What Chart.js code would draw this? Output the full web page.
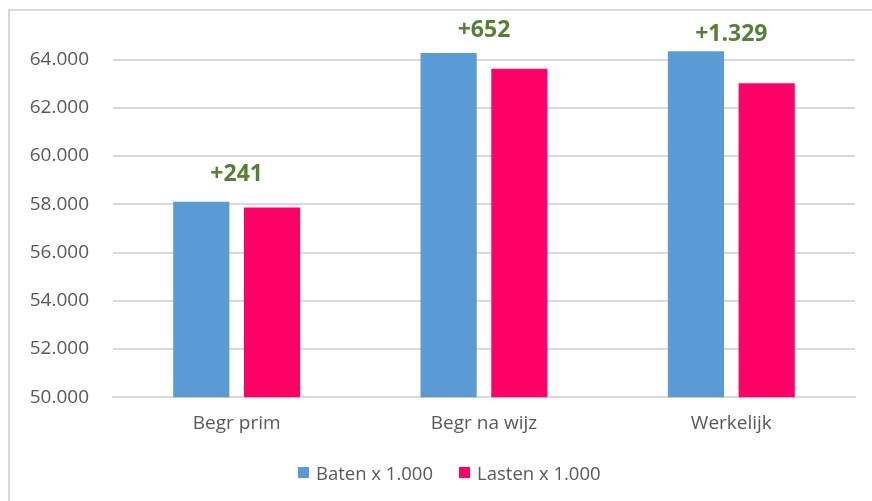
<!DOCTYPE html>
<html>
<head>
<meta charset="utf-8">
<script src="https://cdn.jsdelivr.net/npm/chart.js@4.4.1/dist/chart.umd.min.js"></script>
<style>
  html, body { margin: 0; padding: 0; background: #ffffff; }
  #wrap { position: relative; width: 872px; height: 501px; overflow: hidden; }
  #frame { position: absolute; left: 8px; top: 9px; width: 900px; height: 600px;
           border-top: 2px solid #d9d9d9; border-left: 2px solid #d9d9d9; box-sizing: border-box; }
  canvas { position: absolute; left: 0; top: 0; }
  #legend { position: absolute; left: 298px; top: 460px; height: 24px; display: flex; align-items: center;
            font-family: 'Open Sans', 'Liberation Sans', sans-serif; font-size: 18.5px; color: #595959; white-space: nowrap; }
  .item { display: flex; align-items: center; }
  .box { width: 11px; height: 11px; margin-right: 7px; }
</style>
</head>
<body>
<div id="wrap">
  <div id="frame"></div>
  <canvas id="c" width="872" height="501"></canvas>
  <div id="legend"></div>
</div>
<script>
const categories = ["Begr prim", "Begr na wijz", "Werkelijk"];
const baten = [58110, 64278, 64350];
const lasten = [57869, 63626, 63021];
const diffLabels = ["+241", "+652", "+1.329"];
const seriesNames = ["Baten x 1.000", "Lasten x 1.000"];
const yTicks = [50000, 52000, 54000, 56000, 58000, 60000, 62000, 64000];
const colors = ["#5B9BD5", "#FF0066"];

const FONT = "'Open Sans', 'Liberation Sans', sans-serif";

function fmt(v) {
  return Math.round(v).toString().replace(/\B(?=(\d{3})+(?!\d))/g, ".");
}

const diffPlugin = {
  id: "diffLabels",
  afterDatasetsDraw(chart, args, opts) {
    const ctx = chart.ctx;
    const meta0 = chart.getDatasetMeta(0);
    const meta1 = chart.getDatasetMeta(1);
    ctx.save();
    ctx.font = "bold 23px " + FONT;
    ctx.fillStyle = "#548235";
    ctx.textAlign = "center";
    ctx.textBaseline = "middle";
    diffLabels.forEach((t, i) => {
      const b0 = meta0.data[i], b1 = meta1.data[i];
      const x = (b0.x + b1.x) / 2;
      const y = Math.min(b0.y, b1.y) - opts.offsets[i];
      ctx.fillText(t, x, y);
    });
    ctx.restore();
  }
};

const chart = new Chart(document.getElementById("c"), {
  type: "bar",
  data: {
    labels: categories,
    datasets: seriesNames.map((n, k) => ({
      label: n, data: k === 0 ? baten : lasten, backgroundColor: colors[k], borderWidth: 0,
      categoryPercentage: 0.572, barPercentage: 0.794
    }))
  },
  plugins: [diffPlugin],
  options: {
    responsive: false,
    animation: false,
    layout: { padding: { left: 0, right: 17, top: 1, bottom: 59 } },
    plugins: {
      tooltip: { enabled: false },
      legend: { display: false },
      diffLabels: { offsets: [27, 22, 17] }
    },
    scales: {
      x: {
        grid: { display: false },
        border: { display: true, color: "#d9d9d9", width: 2 },
        ticks: { color: "#595959", font: { family: FONT, size: 19 }, padding: 7 }
      },
      y: {
        min: 50000, max: 66000,
        afterFit(scale) { scale.width = 113; },
        afterBuildTicks(scale) { scale.ticks = yTicks.map(v => ({ value: v })); },
        border: { display: false },
        grid: { color: "#d9d9d9", lineWidth: 2, drawTicks: true, tickLength: 24, tickColor: "rgba(0,0,0,0)" },
        ticks: { color: "#595959", font: { family: FONT, size: 19 }, padding: 0,
                 callback: v => fmt(v) }
      }
    }
  }
});

const leg = document.getElementById("legend");
seriesNames.forEach((n, k) => {
  const it = document.createElement("div");
  it.className = "item";
  if (k > 0) it.style.marginLeft = "26px";
  const b = document.createElement("div");
  b.className = "box";
  b.style.background = colors[k];
  const s = document.createElement("span");
  s.textContent = n;
  it.appendChild(b); it.appendChild(s);
  leg.appendChild(it);
});
</script>
</body>
</html>
